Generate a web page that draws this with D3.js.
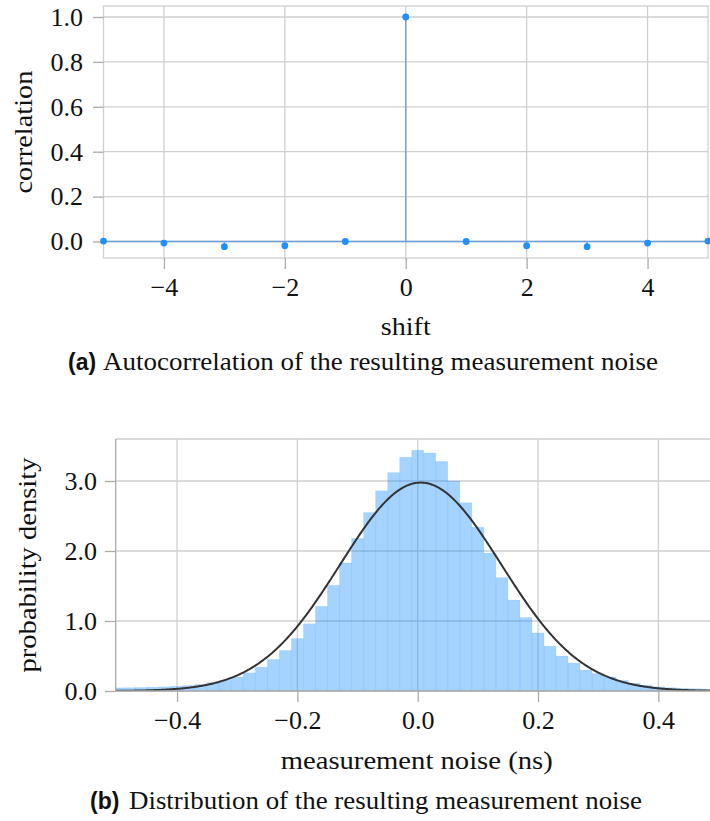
<!DOCTYPE html>
<html>
<head>
<meta charset="utf-8">
<script src="https://cdn.jsdelivr.net/npm/d3@7"></script>
<style>
	body { margin: 0; background: #fff; }
	svg { display: block; }
	text { font-family: "Liberation Serif", "Times New Roman", serif; fill: #111; }
</style>
</head>
<body>
<div id="chart"></div>
<script>
// (a) autocorrelation of the measurement noise
var shifts = [-5, -4, -3, -2, -1, 0, 1, 2, 3, 4, 5]
var correlation = [0.002, -0.007, -0.023, -0.019, 0.0, 1.0, 0.0, -0.019, -0.023, -0.007, 0.002]
var shiftTicks = [-4, -2, 0, 2, 4]
var corrTicks = [0, 0.2, 0.4, 0.6, 0.8, 1.0]

// (b) histogram of the measurement noise, bins of 0.02 ns
var binCenters = [-0.50, -0.48, -0.46, -0.44, -0.42, -0.40, -0.38, -0.36, -0.34, -0.32,
	-0.30, -0.28, -0.26, -0.24, -0.22, -0.20, -0.18, -0.16, -0.14, -0.12,
	-0.10, -0.08, -0.06, -0.04, -0.02, 0.00, 0.02, 0.04, 0.06, 0.08,
	0.10, 0.12, 0.14, 0.16, 0.18, 0.20, 0.22, 0.24, 0.26, 0.28,
	0.30, 0.32, 0.34, 0.36, 0.38, 0.40, 0.42, 0.44, 0.46, 0.48, 0.50]
var density = [0.045, 0.047, 0.050, 0.055, 0.060, 0.068, 0.078, 0.095, 0.12, 0.155,
	0.20, 0.26, 0.34, 0.45, 0.58, 0.75, 0.96, 1.21, 1.51, 1.83,
	2.18, 2.55, 2.86, 3.12, 3.34, 3.44, 3.40, 3.28, 3.00, 2.69,
	2.34, 1.97, 1.62, 1.30, 1.05, 0.83, 0.64, 0.50, 0.40, 0.30,
	0.25, 0.20, 0.15, 0.11, 0.08, 0.06, 0.047, 0.038, 0.033, 0.028, 0.025]
var binWidth = 0.02
// fitted normal distribution drawn over the histogram
var fitMean = 0.005
var fitSigma = 0.134
var noiseTicks = [-0.4, -0.2, 0, 0.2, 0.4]
var densityTicks = [0, 1, 2, 3]

;(() => run())()

function run() {
	var w = 710
	var h = 821
	var gridColor = "#cfcfcf"
	var tickColor = "#ababab"
	var blue = "#1e90ff"

	var svg = d3.select("#chart")
		.append("svg")
		.attr("width", w)
		.attr("height", h)

	// ---------- top chart ----------
	var top = { left: 103.5, right: 708, top: 6, bottom: 258 }

	var x1 = d3.scaleLinear()
		.domain([-5, 5])
		.range([top.left, top.right])

	var y1 = d3.scaleLinear()
		.domain([-0.0735, 1.049])
		.range([top.bottom, top.top])

	var g1 = svg.append("g")

	g1.selectAll(".vgrid")
		.data(shiftTicks)
		.enter()
		.append("line")
		.attr("x1", d => x1(d))
		.attr("x2", d => x1(d))
		.attr("y1", top.top)
		.attr("y2", top.bottom)
		.attr("stroke", gridColor)
		.attr("stroke-width", 1.3)

	g1.selectAll(".hgrid")
		.data(corrTicks)
		.enter()
		.append("line")
		.attr("x1", top.left)
		.attr("x2", top.right)
		.attr("y1", d => y1(d))
		.attr("y2", d => y1(d))
		.attr("stroke", gridColor)
		.attr("stroke-width", 1.3)

	g1.append("rect")
		.attr("x", top.left)
		.attr("y", top.top)
		.attr("width", top.right - top.left)
		.attr("height", top.bottom - top.top)
		.attr("fill", "none")
		.attr("stroke", gridColor)
		.attr("stroke-width", 1.3)

	// x axis
	var xAxis1 = g1.append("g")
		.attr("transform", "translate(0," + top.bottom + ")")
		.call(d3.axisBottom(x1).tickValues(shiftTicks).tickSize(11).tickPadding(9).tickFormat(d3.format("d")))
	styleAxis(xAxis1)

	// y axis
	var yAxis1 = g1.append("g")
		.attr("transform", "translate(" + top.left + ",0)")
		.call(d3.axisLeft(y1).tickValues(corrTicks).tickSize(10.5).tickPadding(10).tickFormat(d3.format(".1f")))
	styleAxis(yAxis1)

	// stems
	g1.append("line")
		.attr("x1", x1(-5))
		.attr("x2", x1(5))
		.attr("y1", y1(0))
		.attr("y2", y1(0))
		.attr("stroke", "#6fa0da")
		.attr("stroke-width", 1.4)

	g1.selectAll(".stem")
		.data(shifts)
		.enter()
		.append("line")
		.attr("x1", d => x1(d))
		.attr("x2", d => x1(d))
		.attr("y1", y1(0))
		.attr("y2", (d, i) => y1(correlation[i]))
		.attr("stroke", "#6fa0da")
		.attr("stroke-width", 1.4)

	g1.selectAll("circle")
		.data(shifts)
		.enter()
		.append("circle")
		.attr("cx", d => x1(d))
		.attr("cy", (d, i) => y1(correlation[i]))
		.attr("r", 3.4)
		.attr("fill", blue)

	g1.append("text")
		.attr("transform", "translate(32," + ((top.top + top.bottom) / 2) + ") rotate(-90)")
		.attr("text-anchor", "middle")
		.style("font-size", "25px")
		.attr("textLength", 123)
		.attr("lengthAdjust", "spacingAndGlyphs")
		.text("correlation")

	g1.append("text")
		.attr("x", x1(0))
		.attr("y", 335)
		.attr("text-anchor", "middle")
		.style("font-size", "25px")
		.attr("textLength", 50)
		.attr("lengthAdjust", "spacingAndGlyphs")
		.text("shift")

	caption(svg, "(a)", "Autocorrelation of the resulting measurement noise", 68, 103, 555, 370)

	// ---------- bottom chart ----------
	var bot = { left: 115.7, right: 718.5, top: 439, bottom: 691 }

	var x2 = d3.scaleLinear()
		.domain([-0.502, 0.5])
		.range([bot.left, bot.right])

	var y2 = d3.scaleLinear()
		.domain([0, 3.6])
		.range([bot.bottom, bot.top])

	var g2 = svg.append("g")

	svg.append("clipPath")
		.attr("id", "clip2")
		.append("rect")
		.attr("x", bot.left)
		.attr("y", bot.top)
		.attr("width", bot.right - bot.left)
		.attr("height", bot.bottom - bot.top)

	g2.selectAll(".vgrid")
		.data(noiseTicks)
		.enter()
		.append("line")
		.attr("x1", d => x2(d))
		.attr("x2", d => x2(d))
		.attr("y1", bot.top)
		.attr("y2", bot.bottom)
		.attr("stroke", gridColor)
		.attr("stroke-width", 1.3)

	g2.selectAll(".hgrid")
		.data(densityTicks)
		.enter()
		.append("line")
		.attr("x1", bot.left)
		.attr("x2", bot.right)
		.attr("y1", d => y2(d))
		.attr("y2", d => y2(d))
		.attr("stroke", gridColor)
		.attr("stroke-width", 1.3)

	g2.append("line")
		.attr("x1", bot.left)
		.attr("x2", bot.right)
		.attr("y1", bot.top)
		.attr("y2", bot.top)
		.attr("stroke", gridColor)
		.attr("stroke-width", 1.3)

	// histogram bars
	g2.append("g")
		.attr("clip-path", "url(#clip2)")
		.selectAll("rect")
		.data(binCenters)
		.enter()
		.append("rect")
		.attr("x", d => x2(d - binWidth / 2))
		.attr("width", d => x2(d + binWidth / 2) - x2(d - binWidth / 2))
		.attr("y", (d, i) => y2(density[i]))
		.attr("height", (d, i) => y2(0) - y2(density[i]))
		.attr("fill", blue)
		.attr("fill-opacity", 0.4)
		.attr("stroke", blue)
		.attr("stroke-opacity", 0.08)
		.attr("stroke-width", 1)

	// normal fit curve
	var pdf = v => Math.exp(-((v - fitMean) ** 2) / (2 * fitSigma * fitSigma)) / (fitSigma * Math.sqrt(2 * Math.PI))
	var curveX = d3.range(-0.502, 0.5005, 0.002)

	var line = d3.line()
		.x(d => x2(d))
		.y(d => y2(pdf(d)))

	g2.append("path")
		.attr("clip-path", "url(#clip2)")
		.attr("d", line(curveX))
		.attr("fill", "none")
		.attr("stroke", "#333")
		.attr("stroke-width", 2)

	var xAxis2 = g2.append("g")
		.attr("transform", "translate(0," + bot.bottom + ")")
		.call(d3.axisBottom(x2).tickValues(noiseTicks).tickSize(11).tickPadding(9).tickFormat(d3.format(".1f")))
	styleAxis(xAxis2)
	xAxis2.select(".domain")
		.attr("d", "M" + bot.left + ",0H" + w)
		.attr("stroke", tickColor)
		.attr("stroke-width", 1.3)

	var yAxis2 = g2.append("g")
		.attr("transform", "translate(" + bot.left + ",0)")
		.call(d3.axisLeft(y2).tickValues(densityTicks).tickSize(10.7).tickPadding(8).tickFormat(d3.format(".1f")))
	styleAxis(yAxis2)
	yAxis2.select(".domain")
		.attr("d", "M0," + bot.top + "V" + bot.bottom)
		.attr("stroke", tickColor)
		.attr("stroke-width", 1.3)

	g2.append("text")
		.attr("transform", "translate(36," + ((bot.top + bot.bottom) / 2) + ") rotate(-90)")
		.attr("text-anchor", "middle")
		.style("font-size", "25px")
		.attr("textLength", 215)
		.attr("lengthAdjust", "spacingAndGlyphs")
		.text("probability density")

	g2.append("text")
		.attr("x", 416.7)
		.attr("y", 769)
		.attr("text-anchor", "middle")
		.style("font-size", "25px")
		.attr("textLength", 272)
		.attr("lengthAdjust", "spacingAndGlyphs")
		.text("measurement noise (ns)")

	caption(svg, "(b)", "Distribution of the resulting measurement noise", 90, 129, 513, 809)

	function styleAxis(g) {
		g.select(".domain").attr("stroke", "none")
		g.selectAll(".tick line")
			.attr("stroke", tickColor)
			.attr("stroke-width", 1.3)
		g.selectAll(".tick text")
			.attr("fill", "#111")
			.style("font-family", "\"Liberation Serif\", serif")
			.style("font-size", "26px")
	}

	function caption(parent, tag, body, tagX, bodyX, bodyLen, baseY) {
		parent.append("text")
			.attr("x", tagX)
			.attr("y", baseY)
			.style("font-family", "\"Liberation Sans\", Arial, sans-serif")
			.style("font-weight", "bold")
			.style("font-size", "23px")
			.text(tag)
		parent.append("text")
			.attr("x", bodyX)
			.attr("y", baseY)
			.style("font-size", "25px")
			.attr("textLength", bodyLen)
			.attr("lengthAdjust", "spacingAndGlyphs")
			.text(body)
	}
}
</script>
</body>
</html>
